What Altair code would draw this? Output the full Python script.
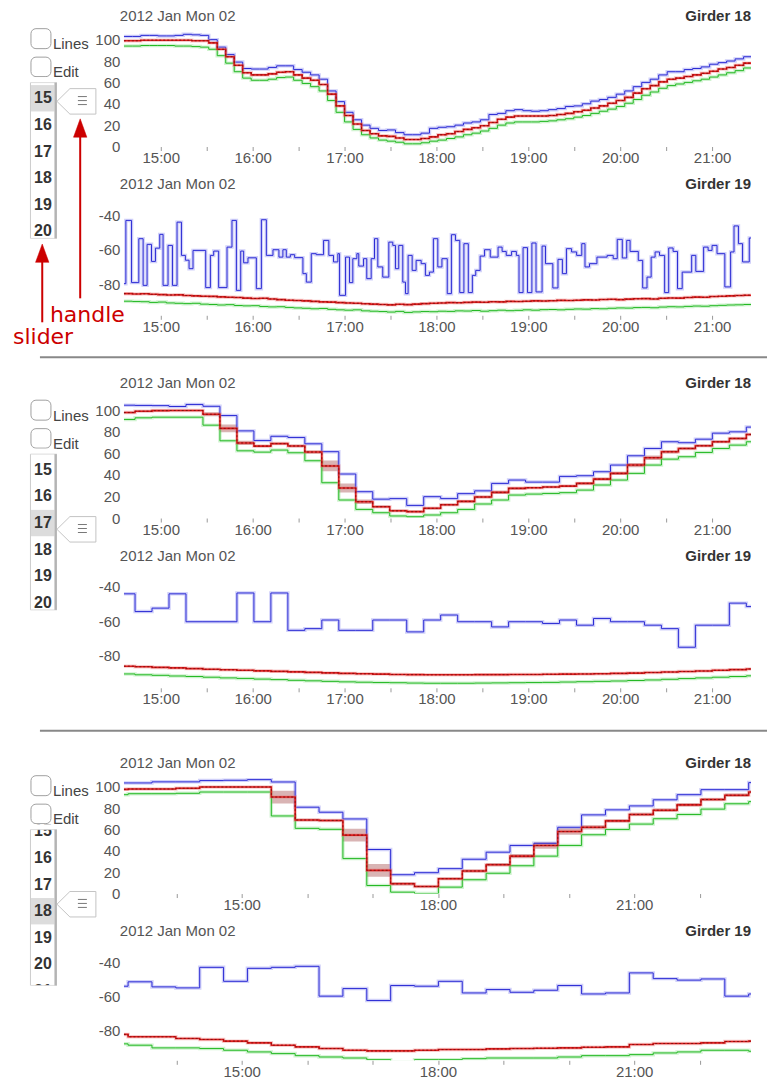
import altair as alt
import pandas as pd

FONT = "Liberation Sans"
TXT = "#555555"
DARK = "#333333"
BLUE, BLUE_H = "#2b2bd4", "#7a7aee"
RED, RED_H, RED_D = "#dd1c1c", "#e87070", "#8a0f0f"
GREEN, GREEN_H = "#22b822", "#7ade7a"
BAND = "#b46a6a"
ANNO = "#cc0000"

# ---------------- data (decimal hours, values) ----------------
# section 1 : fine resolution
S1_T0, S1_T1, S1_STEP = 14.598, 21.424, 0.0924
S1_G18_MAX = [103, 103, 104, 104, 103.5, 103.5, 104, 105, 104.5, 104,
              100, 93, 86, 79, 73, 72.5, 72.5, 74, 75.5, 75.5,
              72, 69.5, 67, 63, 52, 42, 32, 25, 20, 17,
              15, 15.5, 13, 11, 11, 12.5, 17, 18, 18.5, 20,
              22, 23, 25, 30, 31, 33.5, 34.5, 33.5, 33, 33.5,
              34.5, 35.5, 37.5, 38, 40, 42.5, 44, 46, 49, 52,
              56, 60, 63, 67, 70, 70, 72, 73, 74.5, 77,
              78.5, 80, 82, 84]
S1_G18_MEAN = [99, 99, 99.5, 99.5, 99.5, 99.5, 99.5, 99.5, 99, 99,
               97, 91, 84, 76, 69, 67, 67, 68, 69.5, 70,
               67, 64, 62, 58, 49, 38, 29, 21, 15, 12,
               10, 9.5, 8, 6.5, 6.5, 7.5, 9, 11, 12, 14,
               16, 17.5, 19.5, 22.5, 25.5, 27.5, 28.5, 28.5, 28.5, 28.5,
               29, 30, 31, 32.5, 34, 36, 38, 40.5, 43, 46,
               50, 54, 57, 60.5, 63, 64, 65.5, 67, 68.5, 70.5,
               72.5, 74, 76, 78]
S1_G18_MIN = [94, 94, 94.5, 94.5, 94.5, 94.5, 94, 94, 93.5, 93,
              91, 85, 78, 70, 64, 62, 62, 63, 64.5, 65,
              62, 59, 56, 52, 43, 32, 23, 16, 11, 8,
              6, 5, 4, 2.5, 2.5, 3.5, 5, 6, 7.5, 9,
              11, 12.5, 14.5, 17, 20, 22, 23, 23, 23, 23.5,
              24, 25, 26, 27.5, 29, 31, 33, 35, 37.5, 40.5,
              44, 48, 51, 54.5, 57, 58.5, 60, 61.5, 63, 65,
              67, 69, 71, 73.5]
S1_G19_MAX_STEPS = [
    (14.598, -79.6), (14.620, -42.9), (14.682, -79.0), (14.761, -53.5), (14.808, -80.6),
    (14.851, -56.8), (14.899, -66.7), (14.942, -59.0), (14.989, -51.0), (15.025, -80.6),
    (15.079, -57.4), (15.127, -80.6), (15.177, -43.9), (15.225, -63.2), (15.268, -66.0),
    (15.308, -70.9), (15.351, -60.3), (15.489, -81.9), (15.540, -63.2), (15.576, -60.7),
    (15.630, -81.9), (15.721, -58.4), (15.775, -42.9), (15.823, -83.5), (15.870, -60.7),
    (15.902, -67.5), (15.949, -64.6), (16.040, -82.5), (16.095, -42.5), (16.149, -63.2),
    (16.221, -59.9), (16.286, -64.2), (16.329, -59.9), (16.366, -64.2), (16.410, -62.8),
    (16.457, -64.5), (16.547, -73.8), (16.584, -78.7), (16.638, -62.2), (16.692, -62.8),
    (16.772, -54.5), (16.829, -63.2), (16.880, -67.0), (16.927, -62.2), (16.946, -86.4),
    (17.011, -64.2), (17.054, -79.0), (17.090, -65.1), (17.134, -62.2), (17.155, -69.4),
    (17.207, -65.1), (17.242, -76.7), (17.290, -65.1), (17.326, -53.5), (17.362, -69.9),
    (17.416, -75.8), (17.482, -55.5), (17.525, -57.4), (17.554, -70.9), (17.590, -57.4),
    (17.634, -78.7), (17.663, -85.4), (17.692, -63.2), (17.736, -71.9), (17.779, -66.1),
    (17.834, -68.0), (17.880, -74.8), (17.924, -72.9), (17.967, -53.5), (18.015, -69.9),
    (18.060, -65.1), (18.118, -85.4), (18.163, -51.2), (18.207, -54.5), (18.254, -84.8),
    (18.299, -56.4), (18.347, -84.8), (18.391, -74.8), (18.428, -71.9), (18.476, -63.6),
    (18.524, -59.9), (18.586, -64.2), (18.671, -58.4), (18.715, -60.9), (18.760, -63.2),
    (18.818, -60.9), (18.870, -63.2), (18.899, -84.8), (18.943, -58.7), (18.991, -84.8),
    (19.039, -56.0), (19.084, -84.4), (19.150, -57.8), (19.187, -68.0), (19.267, -82.1),
    (19.323, -65.5), (19.371, -73.8), (19.415, -59.3), (19.471, -61.2), (19.526, -63.2),
    (19.582, -56.4), (19.617, -69.9), (19.666, -68.0), (19.747, -64.2), (19.858, -63.2),
    (19.924, -65.1), (19.968, -53.9), (20.023, -64.7), (20.071, -54.5), (20.108, -60.9),
    (20.197, -66.1), (20.245, -82.1), (20.292, -75.8), (20.337, -64.2), (20.380, -61.2),
    (20.428, -63.2), (20.484, -84.8), (20.528, -58.9), (20.576, -60.9), (20.624, -82.5),
    (20.675, -72.9), (20.778, -63.2), (20.823, -72.5), (20.908, -58.4), (20.957, -60.3),
    (21.000, -57.4), (21.054, -62.2), (21.139, -81.5), (21.202, -61.2), (21.239, -46.1),
    (21.287, -56.4), (21.332, -67.0), (21.405, -53.1)]
S1_G19_MEAN = [-85.4, -85.6, -85.5, -85.8, -86.0, -86.2, -86.1, -86.5, -86.7, -86.9,
               -87.0, -87.3, -87.5, -87.6, -88.0, -88.2, -88.1, -88.5, -88.9, -89.2,
               -89.4, -89.6, -89.9, -90.2, -90.3, -90.6, -90.8, -91.0, -91.3, -91.5,
               -91.7, -91.9, -91.6, -91.8, -91.5, -91.2, -91.0, -90.8, -90.6, -90.7,
               -90.5, -90.3, -90.4, -90.1, -90.2, -89.9, -90.0, -89.8, -89.6, -89.7,
               -89.5, -89.3, -89.4, -89.2, -89.0, -89.1, -88.8, -88.7, -88.9, -88.6,
               -88.4, -88.3, -88.5, -88.1, -87.9, -88.0, -87.6, -87.4, -87.5, -87.1,
               -86.9, -86.7, -86.5, -86.3]
S1_G19_MIN = [-89.8, -90.0, -90.1, -90.5, -90.3, -90.8, -91.0, -91.2, -91.0, -91.5,
              -91.7, -92.0, -91.8, -92.3, -92.5, -92.4, -92.9, -93.1, -93.0, -93.4,
              -93.7, -93.9, -94.2, -94.0, -94.5, -94.8, -95.0, -94.8, -95.4, -95.6,
              -95.8, -96.1, -95.7, -96.3, -96.0, -95.8, -95.9, -95.6, -95.7, -95.4,
              -95.5, -95.2, -95.6, -95.3, -95.0, -95.3, -95.1, -94.8, -95.0, -94.7,
              -94.6, -94.8, -94.5, -94.3, -94.4, -94.1, -94.2, -93.9, -93.7, -93.8,
              -93.5, -93.4, -93.6, -93.2, -93.0, -93.1, -92.8, -92.6, -92.7, -92.4,
              -92.2, -92.0, -91.9, -91.7]

# section 2 : medium resolution
S2_T0, S2_T1, S2_FIRST, S2_STEP = 14.598, 21.424, 14.720, 0.1848
S2_G18_MAX = [104.6, 104.4, 104.2, 103.4, 105.3, 103.6, 95.0, 80.8, 71.8, 75.8,
              74.7, 68.8, 61.5, 40.8, 24.4, 17.5, 18.0, 11.7, 19.8, 18.0,
              22.6, 25.2, 32.1, 35.2, 33.3, 33.3, 38.6, 39.2, 42.9, 49.1,
              57.7, 64.5, 70.7, 69.8, 73.1, 78.7, 79.9, 84.3]
S2_G18_MEAN = [97.8, 99.0, 99.6, 99.7, 99.7, 96.2, 83.1, 69.6, 66.7, 69.0,
               66.8, 61.2, 48.3, 27.8, 15.1, 10.5, 6.7, 5.9, 9.0, 12.3,
               15.4, 19.5, 23.8, 27.5, 28.1, 28.7, 29.6, 32.1, 36.1, 41.4,
               49.1, 55.9, 61.4, 64.5, 67.0, 70.7, 73.8, 77.5]
S2_G18_SD = [0.8, 0.8, 0.8, 0.8, 0.8, 1.8, 3.5, 2.0, 1.0, 0.8,
             1.2, 1.5, 5.0, 4.2, 2.0, 1.0, 1.0, 0.8, 1.0, 1.0,
             1.2, 1.2, 1.5, 1.0, 0.7, 0.7, 0.7, 1.2, 1.2, 1.5,
             2.0, 2.0, 1.5, 1.2, 1.2, 1.2, 1.2, 1.2]
S2_G18_MIN = [91.4, 92.9, 93.5, 93.5, 93.5, 86.1, 71.6, 62.3, 61.1, 63.0,
              60.5, 53.1, 32.7, 16.7, 8.0, 4.9, 1.9, 1.2, 2.8, 4.9,
              8.0, 13.0, 16.7, 21.3, 22.2, 22.8, 23.5, 25.9, 30.6, 35.2,
              41.4, 49.1, 54.6, 56.8, 60.8, 64.5, 67.6, 70.7]
S2_G19_MAX = [-44.0, -54.3, -52.3, -44.0, -60.2, -60.2, -60.2, -43.5, -60.2, -43.5,
              -65.2, -64.2, -59.2, -65.2, -65.2, -59.2, -59.2, -66.1, -59.2, -56.3,
              -60.2, -60.2, -63.2, -60.2, -60.2, -61.2, -59.2, -62.2, -58.3, -60.2,
              -60.2, -62.2, -64.2, -75.0, -62.2, -62.2, -49.4, -51.4]
S2_G19_MEAN = [-86.0, -86.3, -86.7, -87.0, -87.4, -87.8, -88.1, -88.4, -88.7, -89.0,
               -89.3, -89.6, -89.9, -90.2, -90.4, -90.6, -90.8, -90.9, -91.0, -91.0,
               -91.0, -90.9, -90.9, -90.8, -90.8, -90.7, -90.6, -90.5, -90.4, -90.2,
               -90.0, -89.7, -89.4, -89.1, -88.8, -88.4, -88.0, -87.6]
S2_G19_MIN = [-90.5, -91, -91.3, -91.7, -92, -92.4, -92.8, -93.1, -93.5, -93.8,
              -94.2, -94.5, -94.8, -95.1, -95.3, -95.5, -95.6, -95.8, -95.9, -95.9,
              -95.9, -95.8, -95.7, -95.6, -95.5, -95.4, -95.2, -95.0, -94.8, -94.6,
              -94.3, -94.0, -93.6, -93.2, -92.8, -92.4, -92.0, -91.6]

# section 3 : coarse resolution
S3_T0, S3_T1, S3_FIRST, S3_STEP = 13.198, 22.786, 13.263, 0.3649
S3_G18_MAX = [103.5, 103.5, 104.5, 104.5, 105.7, 106.0, 106.6, 104.4, 80.8, 76.1,
              69.8, 41.2, 17.6, 19.5, 23.3, 32.1, 38.7, 45.0, 47.0, 62.0,
              73.6, 78.3, 82.0, 87.7, 92.5, 97.2, 97.2, 103.8]
S3_G18_MEAN = [97.5, 97.8, 97.8, 98.5, 99.7, 99.7, 99.7, 90.3, 68.8, 68.4,
               54.7, 21.7, 9.1, 6.6, 13.9, 21.1, 27, 35, 45, 58,
               62, 68, 74, 78, 83, 88, 92, 95]
S3_G18_SD = [0.8, 0.8, 0.8, 0.8, 0.8, 0.8, 0.8, 6, 1.2, 1.2,
             6, 6, 1.5, 1, 1, 1.5, 1.5, 2, 3, 3,
             2, 1.5, 1.5, 1.5, 1.5, 1.5, 1.5, 1.5]
S3_G18_MIN = [92.5, 93.4, 93.4, 93.8, 95, 95, 95, 72.6, 61, 60.1,
              32.7, 7.5, 1.3, 0, 6, 12.9, 19, 26, 35, 45,
              55, 60, 65, 70, 74, 79, 84, 86]
S3_G19_MAX = [-53.8, -51.2, -54.2, -54.8, -42.6, -50.9, -43.2, -42.6, -42.0, -59.7,
              -55.2, -62.3, -53.4, -53.8, -50.9, -57.8, -55.8, -57.4, -56.2, -53.4,
              -58.4, -57.8, -45.9, -49.3, -50.2, -49.5, -59.7, -58.4]
S3_G19_MEAN = [-82.4, -83.8, -83.8, -84.8, -85.4, -86.4, -87.4, -88.8, -89.8, -90.8,
               -91.8, -92.2, -92.2, -91.8, -91.4, -91.4, -91.0, -90.8, -90.6, -90.4,
               -90.0, -89.8, -88.4, -87.8, -87.8, -87.4, -86.6, -86.4]
S3_G19_MIN = [-88.0, -88.8, -90.4, -90.4, -90.8, -91.8, -92.8, -93.8, -95.0, -95.8,
              -96.4, -97.4, -98.8, -97.4, -97.4, -96.8, -96.4, -96.4, -96.4, -95.8,
              -95.0, -95.0, -94.4, -93.4, -92.8, -91.8, -91.8, -92.4]

TICKS_HALF = [15 + 0.5 * i for i in range(13)]
TICKS_HOUR = list(range(14, 23))
G18_TICKS = [0, 20, 40, 60, 80, 100]
G19_TICKS = [-80, -60, -40]
SLIDER_ITEMS = ["15", "16", "17", "18", "19", "20", "21"]

# ---------------- helpers ----------------
PLOT_W = 628
X0 = 124  # absolute left edge of plot area
DUMMY = pd.DataFrame({"d": [0]})


def grid(t0, first, step, n, t1):
    return [t0] + [first + step * i for i in range(n - 1)] + [t1]


def step_df(times, values):
    vals = list(values) + [values[-1]]
    return pd.DataFrame({"t": times, "v": vals})


def ydomain(top, bottom, va, ya, vb, yb):
    s = (yb - ya) / (va - vb)
    return [va - (bottom - ya) / s, va + (ya - top) / s], bottom - top


def x_axis(ticks, every):
    return alt.Axis(values=ticks, title=None, domain=False, grid=False,
                    tickSize=4, tickColor="#999999", tickWidth=1,
                    labelExpr=f"(datum.value % {every} == 0) ? (format(datum.value, 'd') + ':00') : ''",
                    labelFontSize=15, labelColor=TXT, labelFont=FONT, labelPadding=0,
                    labelOverlap=False, labelFlush=False)


def y_axis(vals):
    return alt.Axis(values=vals, title=None, domain=False, grid=False, ticks=False,
                    labelExpr="'' + datum.value",
                    labelPadding=4, labelFontSize=15, labelColor=TXT, labelFont=FONT,
                    labelOverlap=False, labelFlush=False)


def text(x, y, s, size=15, color=DARK, weight="normal", align="left",
         baseline="middle", font=FONT):
    return alt.Chart(DUMMY).mark_text(
        align=align, baseline=baseline, fontSize=size, font=font,
        fontWeight=weight, color=color).encode(
        x=alt.value(x), y=alt.value(y), text=alt.value(s))


def rect(x0, x1, y0, y1, fill, stroke="white", sw=0, radius=0):
    return alt.Chart(DUMMY).mark_rect(
        fill=fill, stroke=stroke, strokeWidth=sw, cornerRadius=radius, opacity=1).encode(
        x=alt.value(x0), x2=alt.value(x1), y=alt.value(y0), y2=alt.value(y1))


def hrule(x0, x1, y, color, width=1, opacity=1):
    return alt.Chart(DUMMY).mark_rule(color=color, strokeWidth=width, opacity=opacity).encode(
        x=alt.value(x0), x2=alt.value(x1), y=alt.value(y))


def vrule(x, y0, y1, color, width=1):
    return alt.Chart(DUMMY).mark_rule(color=color, strokeWidth=width).encode(
        x=alt.value(x), y=alt.value(y0), y2=alt.value(y1))


def shape(x, y, path, fill, stroke, sw=1, filled=True):
    return alt.Chart(DUMMY).mark_point(
        shape=path, size=4, filled=filled, fill=fill, stroke=stroke,
        strokeWidth=sw, opacity=1).encode(x=alt.value(x), y=alt.value(y))


def sidebar(dy, sel, handle_cy, scroll=0.0):
    """UI widget on the left; coordinates in absolute px, converted to panel px."""
    def X(v):
        return v - X0

    def Y(v):
        return v + dy

    out = [
        rect(X(31), X(51), Y(28), Y(48), "white", "#a0a0a0", 1, 5),
        text(X(53), Y(43.5), "Lines", 15, "#444444"),
        rect(X(31), X(51), Y(56.5), Y(76), "white", "#a0a0a0", 1, 5),
        text(X(53), Y(71.5), "Edit", 15, "#444444"),
    ]
    c_sel = 97.7 + 26.67 * sel - scroll
    out.append(rect(X(31), X(54.5), Y(c_sel - 13.2), Y(c_sel + 13.2), "#dcdcdc"))
    for i, lab in enumerate(SLIDER_ITEMS):
        cy = 97.7 + 26.67 * i - scroll
        if cy < 70 or cy > 250:
            continue
        out.append(text(X(43), Y(cy), lab, 16, DARK, "bold", "center"))
    out.append(rect(X(30), X(57), Y(76.6), Y(81.6), "white"))
    out.append(rect(X(30), X(57), Y(238.6), Y(256), "white"))
    out += [
        vrule(X(30.5), Y(82), Y(238), "#cccccc", 1),
        hrule(X(30.5), X(57), Y(82), "#dddddd", 1),
        hrule(X(30.5), X(57), Y(238), "#dddddd", 1),
        rect(X(54.5), X(57), Y(82), Y(238), "#b4b4b4"),
        shape(X(83), Y(handle_cy),
              "M-26,0 L-13,-12.75 L13,-12.75 L13,12.75 L-13,12.75 Z",
              "white", "#c4c4c4", 1),
        shape(X(82.5), Y(handle_cy - 0.8),
              "M-4.5,-4 L4.5,-4 M-4.5,0 L4.5,0 M-4.5,4 L4.5,4",
              "none", "#777777", 1, False),
    ]
    return out


def annotations():
    def X(v):
        return v - X0
    tri = "M-6.7,9.2 L0,-9.2 L6.7,9.2 Z"
    return [
        vrule(X(80.3), 135, 298, ANNO, 2),
        shape(X(80.3), 127.5, tri, ANNO, ANNO, 0.5),
        vrule(X(42.3), 260, 322, ANNO, 2),
        shape(X(42.3), 252.8, tri, ANNO, ANNO, 0.5),
        text(X(50), 321.5, "handle", 22, ANNO, "normal", "left", "alphabetic", "DejaVu Sans"),
        text(X(13), 343.3, "slider", 22, ANNO, "normal", "left", "alphabetic", "DejaVu Sans"),
    ]


def panel(dfs, band_df, xdom, xticks, every, ydom, yvals, height, title_y, girder, extra):
    xs = alt.Scale(domain=xdom, nice=False, zero=False)
    ys = alt.Scale(domain=ydom, nice=False, zero=False)
    xa = x_axis(xticks, every)
    ya = y_axis(yvals)
    layers = []
    if band_df is not None:
        layers.append(alt.Chart(band_df).mark_area(
            interpolate="step-after", color=BAND, opacity=0.5, clip=True).encode(
            x=alt.X("t:Q", scale=xs, axis=xa),
            y=alt.Y("lo:Q", scale=ys, axis=ya), y2="hi:Q"))
    for df, col, halo, w, dash in dfs:
        base = alt.Chart(df).encode(
            x=alt.X("t:Q", scale=xs, axis=xa), y=alt.Y("v:Q", scale=ys, axis=ya))
        layers.append(base.mark_line(interpolate="step-after", color=halo,
                                     strokeWidth=3.5, opacity=0.35, clip=True))
        layers.append(base.mark_line(interpolate="step-after", color=col,
                                     strokeWidth=w, clip=True))
        if dash:
            layers.append(base.mark_line(interpolate="step-after", color=RED_D,
                                         strokeWidth=1, strokeDash=[2, 2], clip=True))
    layers.append(text(-4, title_y, "2012 Jan Mon 02", 15, TXT))
    layers.append(text(PLOT_W, title_y, girder, 15, DARK, "bold", "right"))
    layers += extra
    return alt.layer(*layers).properties(width=PLOT_W, height=height)


def trio(times, mx, mean, mn):
    return [
        (step_df(times, mx), BLUE, BLUE_H, 1, False),
        (step_df(times, mn), GREEN, GREEN_H, 1, False),
        (step_df(times, mean), RED, RED_H, 1.6, True),
    ]


def band(times, mean, sd):
    lo = [m - s for m, s in zip(mean, sd)]
    hi = [m + s for m, s in zip(mean, sd)]
    lo.append(lo[-1])
    hi.append(hi[-1])
    return pd.DataFrame({"t": times, "lo": lo, "hi": hi})


# ---------------- build panels ----------------
t1 = grid(S1_T0, S1_T0 + S1_STEP, S1_STEP, len(S1_G18_MAX), S1_T1)
t2 = grid(S2_T0, S2_FIRST, S2_STEP, len(S2_G18_MAX), S2_T1)
t3 = grid(S3_T0, S3_FIRST, S3_STEP, len(S3_G18_MAX), S3_T1)

g19_t = [p[0] for p in S1_G19_MAX_STEPS] + [S1_T1]
g19_v = [p[1] for p in S1_G19_MAX_STEPS]

# panel geometry (absolute px): top, bottom and two reference ticks
d1, h1 = ydomain(0, 146, 100, 39, 0, 146)
d2, h2 = ydomain(146, 315, -40, 215, -80, 284)
d3, h3 = ydomain(315, 518, 100, 410, 0, 518)
d4, h4 = ydomain(518, 688, -40, 587, -80, 656)
d5, h5 = ydomain(688, 894, 100, 787, 0, 894)
d6, h6 = ydomain(894, 1061, -40, 963.5, -80, 1031)

p1 = panel(trio(t1, S1_G18_MAX, S1_G18_MEAN, S1_G18_MIN), None,
           [S1_T0, S1_T1], TICKS_HALF, 1, d1, G18_TICKS, h1, 15, "Girder 18",
           [hrule(-X0, -X0, 10, "white", 1, 0)] + sidebar(0, 0, 100.8) + annotations())

p2_series = [
    (step_df(g19_t, g19_v), BLUE, BLUE_H, 1, False),
    (step_df(t1, S1_G19_MIN), GREEN, GREEN_H, 1, False),
    (step_df(t1, S1_G19_MEAN), RED, RED_H, 1.6, True),
]
p2 = panel(p2_series, None, [S1_T0, S1_T1], TICKS_HALF, 1, d2, G19_TICKS, h2, 38,
           "Girder 19", [hrule(40 - X0, 768 - X0, 357 - 146, "#888888", 2)])

p3 = panel(trio(t2, S2_G18_MAX, S2_G18_MEAN, S2_G18_MIN), band(t2, S2_G18_MEAN, S2_G18_SD),
           [S2_T0, S2_T1], TICKS_HALF, 1, d3, G18_TICKS, h3, 68, "Girder 18",
           sidebar(57, 2, 157.3))

p4 = panel(trio(t2, S2_G19_MAX, S2_G19_MEAN, S2_G19_MIN), None,
           [S2_T0, S2_T1], TICKS_HALF, 1, d4, G19_TICKS, h4, 38, "Girder 19",
           [hrule(40 - X0, 768 - X0, 731 - 518, "#888888", 2)])

p5 = panel(trio(t3, S3_G18_MAX, S3_G18_MEAN, S3_G18_MIN), band(t3, S3_G18_MEAN, S3_G18_SD),
           [S3_T0, S3_T1], TICKS_HOUR, 3, d5, G18_TICKS, h5, 75, "Girder 18",
           sidebar(60, 3, 156.7, scroll=14))

p6 = panel(trio(t3, S3_G19_MAX, S3_G19_MEAN, S3_G19_MIN), None,
           [S3_T0, S3_T1], TICKS_HOUR, 3, d6, G19_TICKS, h6, 38, "Girder 19", [])

chart = alt.vconcat(p1, p2, p3, p4, p5, p6, spacing=0, bounds="flush").properties(
    padding=0
).configure(font=FONT).configure_view(stroke=None, strokeWidth=0)

chart.save("out.html", embed_options={"renderer": "svg", "actions": False})
